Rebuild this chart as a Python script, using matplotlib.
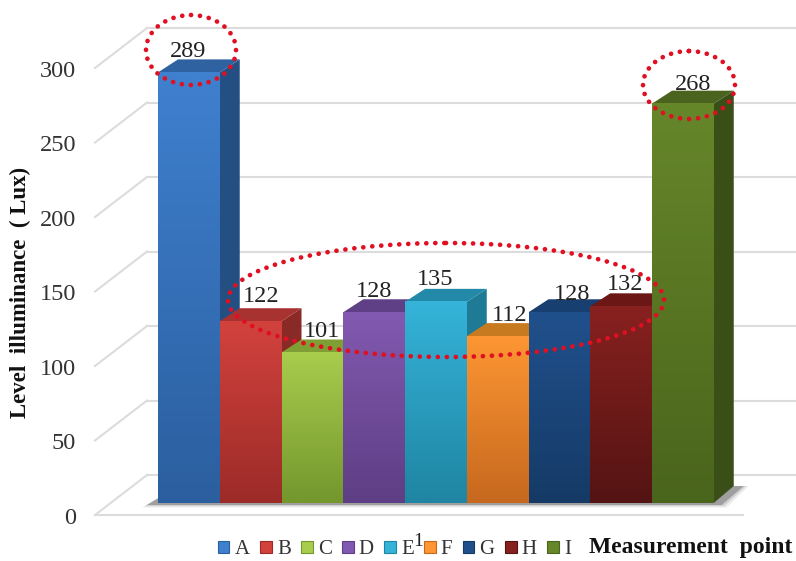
import matplotlib
matplotlib.use('Agg')
import matplotlib.pyplot as plt
import numpy as np
from matplotlib.patches import Ellipse, Patch
from matplotlib.transforms import Affine2D

plt.rcParams['font.family'] = ['Liberation Serif', 'DejaVu Serif']

# Illuminance per measurement point
POINTS = ['A', 'B', 'C', 'D', 'E', 'F', 'G', 'H', 'I']
LUX = [289, 122, 101, 128, 135, 112, 128, 132, 268]
Y_TICKS = [0, 50, 100, 150, 200, 250, 300]

# front top, front bottom, top face, side face
BAR_COLORS = [
    ('#3f80cf', '#2b5f9f', '#2f62a0', '#244f82'),
    ('#d2423d', '#9c2b28', '#a83230', '#8a2a27'),
    ('#a8cc4c', '#74972e', '#7f9f35', '#6e8a2e'),
    ('#8259b0', '#5e3e84', '#5f3f85', '#563a78'),
    ('#35b3d9', '#1f85a2', '#2289a8', '#1f7a96'),
    ('#fd9633', '#c6681e', '#c87a20', '#b5701e'),
    ('#20508c', '#153a66', '#173f70', '#143560'),
    ('#87211f', '#541413', '#6a1716', '#5a1413'),
    ('#66862a', '#4a651c', '#4a6420', '#3a4f18'),
]
# label nudges in pixels (x, y above the front edge)
LABEL_SHIFT = [(-1, 21), (11, 25), (10, 21), (0, 21), (-1, 22),
               (12, 21), (13, 18), (4, 22), (10, 19)]

W, H = 796, 561
BAR_PX = 61.75      # category width
Y_PX = 1.49         # pixels per lux
LEFT_PX = 158       # left edge of first bar
BASE_PX = 503       # y pixel of bar baseline

fig = plt.figure(figsize=(W / 100, H / 100), dpi=100)
ax = fig.add_axes([0, 0, 1, 1])
ax.axis('off')
xlim = (-LEFT_PX / BAR_PX, (W - LEFT_PX) / BAR_PX)
ylim = ((BASE_PX - H) / Y_PX, BASE_PX / Y_PX)


def dx(px):
    return px / BAR_PX


def dy(px):
    return px / Y_PX


# depth of the bars and of the chart walls
DEPTH_X, DEPTH_Y = dx(20), dy(17)
FRONT_X, FRONT_Y = dx(95 - LEFT_PX), dy(503 - 515)
BACK_X, BACK_Y = dx(147 - LEFT_PX), dy(503 - 475)
ROOF_Y = dy(13)
GRID = '#dcdcdc'

# walls
for v in Y_TICKS:
    ax.plot([BACK_X, xlim[1]], [v + BACK_Y] * 2, color=GRID, lw=1.5, zorder=1)
    ax.plot([FRONT_X, BACK_X], [v + FRONT_Y, v + BACK_Y], color=GRID, lw=1.5, zorder=1)
    ax.text(dx(76 - LEFT_PX), v + FRONT_Y + dy(-3), str(v), ha='right', va='center',
            fontsize=17.5, color='#333333', zorder=6)
ax.plot([FRONT_X, dx(743 - LEFT_PX)], [FRONT_Y, FRONT_Y], color=GRID, lw=1.5, zorder=1)

# soft floor shadow
n = len(LUX)
for grow, alpha in [(5, 0.10), (2.5, 0.18), (0, 0.4)]:
    ax.fill([dx(-11 - grow), n + dx(8 + grow), n + DEPTH_X + dx(10 + grow), DEPTH_X],
            [dy(-2 - grow / 2), dy(-2 - grow / 2), DEPTH_Y, DEPTH_Y],
            color='#555555', alpha=alpha, lw=0, zorder=2)

# bars, left to right so each one covers the side of the previous
for i, (value, colors) in enumerate(zip(LUX, BAR_COLORS)):
    top_c, bottom_c, roof_c, side_c = colors
    z = 3 + i * 0.1
    ax.fill([i + 1, i + 1 + DEPTH_X, i + 1 + DEPTH_X, i + 1],
            [0, DEPTH_Y, value + ROOF_Y, value], color=side_c, lw=0, zorder=z)
    ax.fill([i, i + DEPTH_X, i + 1 + DEPTH_X, i + 1],
            [value, value + ROOF_Y, value + ROOF_Y, value], color=roof_c, lw=0, zorder=z)
    c0 = np.array(matplotlib.colors.to_rgb(top_c))
    c1 = np.array(matplotlib.colors.to_rgb(bottom_c))
    ramp = np.linspace(0, 1, 64)[:, None, None] * (c1 - c0) + c0
    ax.imshow(ramp, extent=(i, i + 1, 0, value), origin='upper', aspect='auto',
              interpolation='bilinear', zorder=z + 0.01)
    ax.annotate(str(value), (i + 0.5, value),
                xytext=(LABEL_SHIFT[i][0] * 0.72, LABEL_SHIFT[i][1] * 0.72),
                textcoords='offset points', ha='center', va='center',
                fontsize=17.5, color='#222222', zorder=7)

ax.set_xlim(xlim)
ax.set_ylim(ylim)

# axis titles
fig.text(20 / W, 1 - 292 / H, 'Level  illuminance  ( Lux)', rotation=90, ha='center', va='center',
         fontsize=16.5, fontweight='bold', color='#111111')
fig.text(691 / W, 1 - 548 / H, 'Measurement  point', ha='center', va='center',
         fontsize=17, fontweight='bold', color='#111111')
fig.text(418 / W, 1 - 541 / H, '1', ha='center', va='center', fontsize=14, color='#222222')

# legend
handles = [Patch(facecolor=c[0], edgecolor=c[1], lw=0.8) for c in BAR_COLORS]
fig.legend(handles, POINTS, ncols=len(POINTS), loc='center left',
           bbox_to_anchor=(218 / W, 1 - 550 / H), frameon=False, fontsize=15,
           handlelength=0.55, handleheight=0.55, handletextpad=0.25,
           columnspacing=0.5, borderpad=0, borderaxespad=0, labelcolor='#333333')

# dotted callouts, placed in figure pixels
to_fig = Affine2D().scale(1, -1).translate(0, H)
for cx, cy, w, h in [(191, 50, 90, 70), (689, 85, 92, 68), (446, 300, 436, 114)]:
    ax.add_patch(Ellipse((cx, cy), w, h, fill=False, edgecolor='#e00f22', lw=3.4,
                         linestyle=(0, (0.01, 1.9)), capstyle='round',
                         transform=to_fig, zorder=8, clip_on=False))

fig.savefig('out.png', dpi=100)
